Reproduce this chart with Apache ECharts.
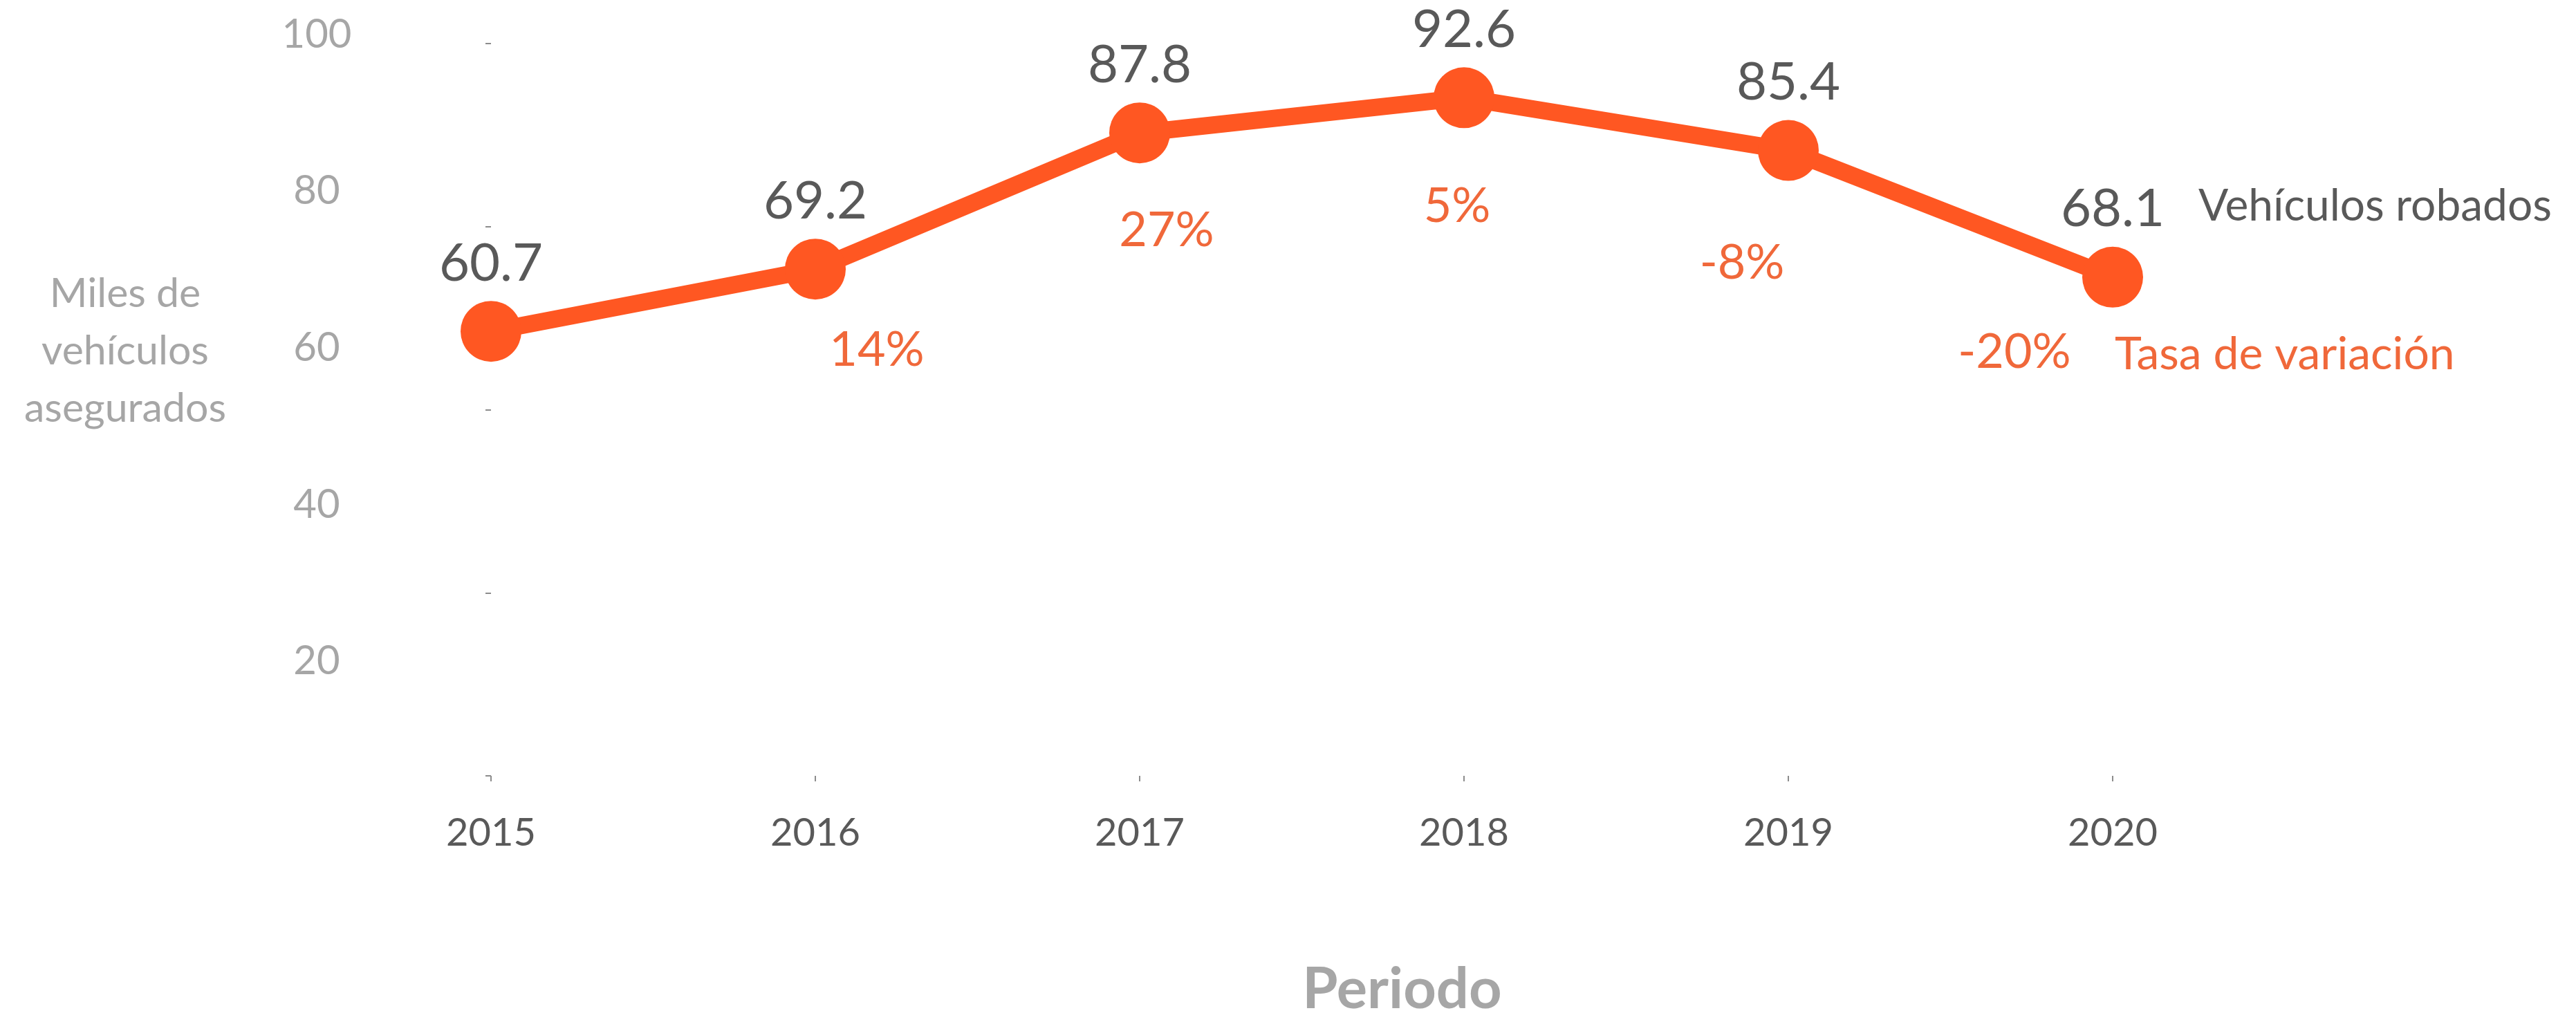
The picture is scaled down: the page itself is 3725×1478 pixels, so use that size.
<!DOCTYPE html>
<html>
<head>
<meta charset="utf-8">
<title>Vehículos robados</title>
<script src="https://cdn.jsdelivr.net/npm/echarts@6/dist/echarts.min.js"></script>
<style>
  html, body { margin: 0; padding: 0; background: #ffffff; }
  #chart { width: 3725px; height: 1478px; }
</style>
</head>
<body>
<div id="chart"></div>
<script>
// datos
const years = ['2015', '2016', '2017', '2018', '2019', '2020']
const robados = [60.7, 69.2, 87.8, 92.6, 85.4, 68.1]
const tasa = [null, '14%', '27%', '5%', '-8%', '-20%']
const yTicks = [20, 40, 60, 80, 100]

// ajuste de las etiquetas de tasa (dx, dy respecto al punto)
const tasaOffset = [[0, 0], [89, 117], [39, 141], [-10, 157], [-67, 163], [-142, 109]]

const naranja = '#FF5722'
const naranjaTxt = '#F0683A'
const grisOscuro = '#595959'
const grisClaro = '#A6A6A6'
const fuente = 'Lato'

const chart = echarts.init(document.getElementById('chart'))

const option = {
  animation: false,
  backgroundColor: '#ffffff',
  textStyle: { fontFamily: fuente },
  grid: [
    { left: 710, right: 670, top: 63, bottom: 348 },
    // eje solo para las etiquetas 20..100
    { left: 530, width: 10, top: 50, bottom: 295 },
  ],
  graphic: [
    {
      type: 'text',
      x: 181,
      y: 383,
      style: {
        text: 'Miles de\nvehículos\nasegurados',
        align: 'center',
        fill: grisClaro,
        fontSize: 59,
        lineHeight: 83,
        fontFamily: fuente,
      },
    },
  ],
  xAxis: [
    {
      type: 'category',
      data: years,
      boundaryGap: false,
      axisLine: { show: false },
      axisTick: { show: true, length: 8, lineStyle: { color: '#8C8C8C', width: 2 } },
      axisLabel: { color: grisOscuro, fontSize: 56, margin: 55 },
      name: 'Periodo',
      nameLocation: 'middle',
      nameGap: 268,
      nameTextStyle: {
        color: grisClaro,
        fontSize: 83,
        fontWeight: 'bold',
        padding: [0, 0, 0, 290],
      },
    },
    { type: 'value', gridIndex: 1, show: false },
  ],
  yAxis: [
    {
      type: 'value',
      min: 0,
      max: 100,
      interval: 25,
      axisLine: { show: false },
      axisTick: { show: true, length: 8, lineStyle: { color: '#8C8C8C', width: 2 } },
      axisLabel: { show: false },
      splitLine: { show: false },
    },
    {
      type: 'value',
      gridIndex: 1,
      min: 0,
      max: 100,
      interval: 20,
      axisLine: { show: false },
      axisTick: { show: false },
      splitLine: { show: false },
      axisLabel: {
        showMinLabel: false,
        align: 'center',
        margin: 72,
        color: grisClaro,
        fontSize: 58,
        formatter: (v) => (yTicks.includes(v) ? String(v) : ''),
      },
    },
  ],
  series: [
    {
      name: 'Vehículos robados',
      type: 'line',
      data: robados,
      symbol: 'circle',
      symbolSize: 88,
      lineStyle: { color: naranja, width: 25 },
      itemStyle: { color: naranja },
      label: {
        show: true,
        position: 'top',
        distance: 16,
        color: grisOscuro,
        fontSize: 76,
        formatter: (p) => p.value.toFixed(1),
      },
      endLabel: {
        show: true,
        formatter: 'Vehículos robados',
        distance: 0,
        offset: [124, -102],
        color: grisOscuro,
        fontSize: 64,
      },
      z: 3,
    },
    {
      name: 'Tasa de variación',
      type: 'line',
      data: robados.map((v, i) => ({
        value: v,
        label: { show: tasa[i] !== null, offset: tasaOffset[i] },
      })),
      symbol: 'circle',
      symbolSize: 1,
      itemStyle: { color: 'rgba(0,0,0,0)' },
      lineStyle: { opacity: 0, width: 0 },
      label: {
        position: 'inside',
        color: naranjaTxt,
        fontSize: 70,
        formatter: (p) => tasa[p.dataIndex] || '',
      },
      endLabel: {
        show: true,
        formatter: 'Tasa de variación',
        distance: 0,
        offset: [3, 112],
        color: naranjaTxt,
        fontSize: 66,
      },
      z: 4,
    },
  ],
}

chart.setOption(option)
</script>
</body>
</html>
